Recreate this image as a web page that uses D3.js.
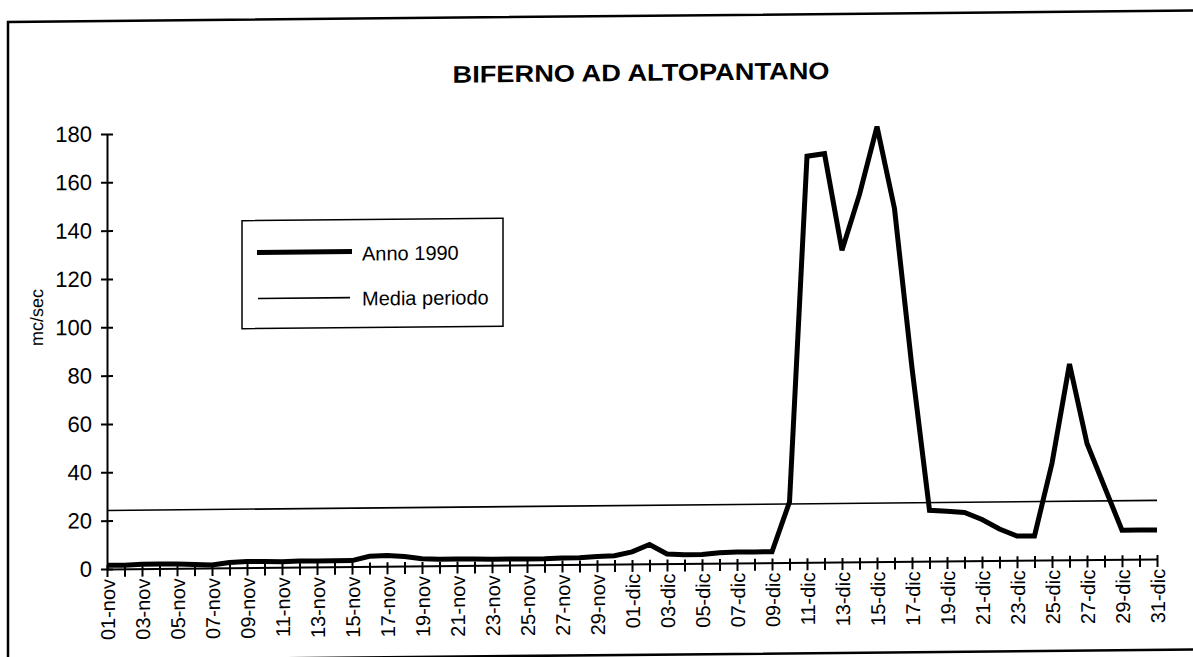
<!DOCTYPE html>
<html>
<head>
<meta charset="utf-8">
<script src="https://cdn.jsdelivr.net/npm/d3@7"></script>
<style>
  body { margin: 0; background: #fff; }
  text { font-family: "Liberation Sans", Arial, sans-serif; fill: #000; }
</style>
</head>
<body>
<div id="wrapper"></div>
<script>
// categories: 01-nov .. 31-dic
const months = [["nov", 30], ["dic", 31]];
const days = months.flatMap(([m, n]) =>
  d3.range(1, n + 1).map(d => String(d).padStart(2, "0") + "-" + m));

// Anno 1990 (mc/sec)
const anno1990 = [
  1.5, 1.5, 1.8, 1.8, 1.8, 1.5, 1.2, 2.2, 2.5, 2.5,
  2.3, 2.5, 2.5, 2.5, 2.5, 4.2, 4.5, 4.0, 3.0, 2.7,
  2.7, 2.7, 2.5, 2.5, 2.5, 2.5, 2.7, 2.8, 3.2, 3.5,
  5.0, 8.0, 4.0, 3.6, 3.6, 4.3, 4.5, 4.5, 4.5, 25,
  168, 169, 129, 152, 180, 146, 80, 21, 20.5, 20,
  17, 13, 10, 10, 40, 81, 48, 30, 12, 12, 12
];

// media periodo
const mediaPeriodo = 24.2;

const yTicks = [0, 20, 40, 60, 80, 100, 120, 140, 160, 180];

function buildChart() {
  const dimensions = { width: 1193, height: 657 };

  const svg = d3.select("#wrapper").append("svg")
    .attr("width", dimensions.width)
    .attr("height", dimensions.height);

  // the scan is slightly tilted
  const bounds = svg.append("g").attr("transform", "skewY(-0.55)");

  // outer frame
  bounds.append("rect")
    .attr("x", 8).attr("y", 22)
    .attr("width", 1240).attr("height", 639)
    .attr("fill", "none")
    .attr("stroke", "#000")
    .attr("stroke-width", 2.5);

  bounds.append("text")
    .attr("x", 641).attr("y", 87)
    .attr("text-anchor", "middle")
    .attr("font-size", 24)
    .attr("font-weight", "bold")
    .attr("textLength", 377)
    .attr("lengthAdjust", "spacingAndGlyphs")
    .text("BIFERNO AD ALTOPANTANO");

  const x = d3.scalePoint().domain(days).range([107, 1157]);
  const y = d3.scaleLinear().domain([0, 180]).range([570, 135]);

  // y axis
  const yAxis = bounds.append("g")
    .attr("transform", `translate(${x(days[0])},0)`)
    .call(d3.axisLeft(y).tickValues(yTicks).tickSizeOuter(0));
  yAxis.select(".domain").attr("stroke-width", 2);
  yAxis.selectAll(".tick line").attr("x1", 6).attr("x2", -6).attr("stroke-width", 2);
  yAxis.selectAll(".tick text")
    .attr("x", -15)
    .attr("font-size", 22)
    .attr("font-family", null);

  // x axis
  const xAxis = bounds.append("g")
    .attr("transform", `translate(0,${y(0)})`)
    .call(d3.axisBottom(x).tickSizeOuter(0)
      .tickFormat((d, i) => (i % 2 === 0 ? d : "")));
  xAxis.select(".domain").attr("stroke-width", 2);
  xAxis.selectAll(".tick line").attr("y1", -4).attr("y2", 8).attr("stroke-width", 2);
  xAxis.selectAll(".tick text")
    .attr("font-size", 20)
    .attr("font-family", null)
    .attr("text-anchor", "end")
    .attr("transform", "rotate(-90)")
    .attr("x", -10)
    .attr("y", 0)
    .attr("dy", "0.35em");

  bounds.append("text")
    .attr("transform", "translate(37,318) rotate(-90)")
    .attr("text-anchor", "middle")
    .attr("dy", "0.35em")
    .attr("font-size", 18)
    .text("mc/sec");

  // media periodo
  bounds.append("line")
    .attr("x1", x(days[0])).attr("x2", x(days[days.length - 1]))
    .attr("y1", y(mediaPeriodo)).attr("y2", y(mediaPeriodo))
    .attr("stroke", "#000")
    .attr("stroke-width", 1.6);

  // anno 1990
  const line = d3.line()
    .x((d, i) => x(days[i]))
    .y(d => y(d));

  bounds.append("path")
    .datum(anno1990)
    .attr("d", line)
    .attr("fill", "none")
    .attr("stroke", "#000")
    .attr("stroke-width", 5)
    .attr("stroke-linejoin", "miter");

  // legend
  const legend = bounds.append("g");
  legend.append("rect")
    .attr("x", 242).attr("y", 223)
    .attr("width", 261).attr("height", 108)
    .attr("fill", "#fff")
    .attr("stroke", "#000")
    .attr("stroke-width", 1.5);

  legend.append("line")
    .attr("x1", 257).attr("x2", 352)
    .attr("y1", 255).attr("y2", 255)
    .attr("stroke", "#000").attr("stroke-width", 5);
  legend.append("text")
    .attr("x", 362).attr("y", 264)
    .attr("font-size", 20)
    .text("Anno 1990");

  legend.append("line")
    .attr("x1", 258).attr("x2", 350)
    .attr("y1", 301).attr("y2", 301)
    .attr("stroke", "#000").attr("stroke-width", 1.6);
  legend.append("text")
    .attr("x", 362).attr("y", 309)
    .attr("font-size", 20)
    .text("Media periodo");
}

buildChart();
</script>
</body>
</html>
